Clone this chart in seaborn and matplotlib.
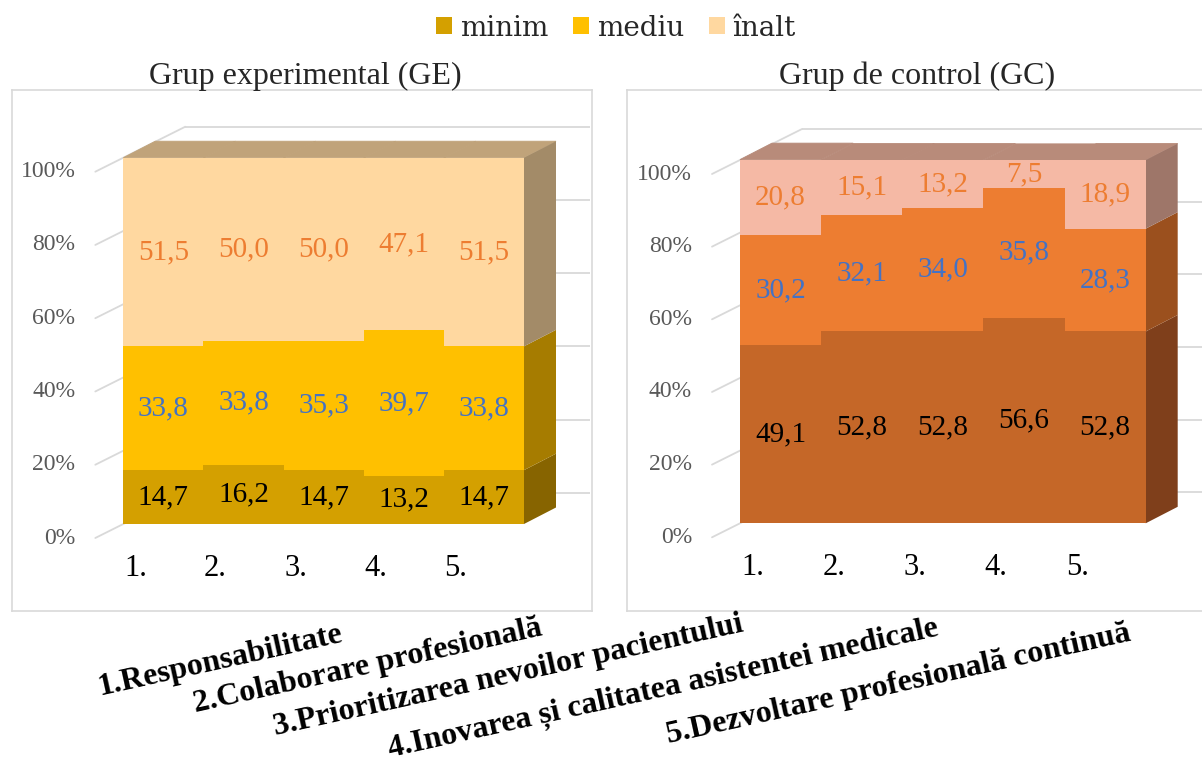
import matplotlib
matplotlib.use("Agg")
import matplotlib.pyplot as plt
from matplotlib.patches import Polygon, Patch
import pandas as pd
import seaborn as sns

# ---- data -------------------------------------------------------------
categories = ["1.", "2.", "3.", "4.", "5."]
levels = ["minim", "mediu", "înalt"]

ge_minim = [14.7, 16.2, 14.7, 13.2, 14.7]
ge_mediu = [33.8, 33.8, 35.3, 39.7, 33.8]
ge_inalt = [51.5, 50.0, 50.0, 47.1, 51.5]

gc_minim = [49.1, 52.8, 52.8, 56.6, 52.8]
gc_mediu = [30.2, 32.1, 34.0, 35.8, 28.3]
gc_inalt = [20.8, 15.1, 13.2, 7.5, 18.9]

dimensions = [
    "1.Responsabilitate",
    "2.Colaborare profesională",
    "3.Prioritizarea nevoilor pacientului",
    "4.Inovarea și calitatea asistentei medicale",
    "5.Dezvoltare profesională continuă",
]
titles = ["Grup experimental (GE)", "Grup de control (GC)"]
y_ticks = [0, 20, 40, 60, 80, 100]

# ---- styling ----------------------------------------------------------
sns.set_theme(style="white")
plt.rcParams["font.family"] = ["Liberation Serif", "DejaVu Serif"]

GE_FRONT = ["#D4A000", "#FFC000", "#FFD8A0"]
GE_SIDE = ["#876400", "#A67C00", "#A38B68"]
GE_TOP = "#C0A37A"
GC_FRONT = ["#C56728", "#ED7D31", "#F5B9A5"]
GC_SIDE = ["#7F3F1B", "#9B501E", "#9E7669"]
GC_TOP = "#B88B7A"
LABEL_COLORS = ["#000000", "#4472C4", "#ED7D31"]
GRID = "#D9D9D9"

W, H = 1202, 763
fig = plt.figure(figsize=(W / 100, H / 100), dpi=100)


def draw_panel(box, front, minim, mediu, inalt, front_cols, side_cols, top_col, title):
    bx0, by0, bx1, by1 = box
    fx0, fy0, fx1, fy1 = front
    ax = fig.add_axes([bx0 / W, 1 - by1 / H, (bx1 - bx0) / W, (by1 - by0) / H])
    n = len(categories)
    ppx = (fx1 - fx0) / n
    ppy = (fy1 - fy0) / 100
    xlim = (-0.5 - (fx0 - bx0) / ppx, n - 0.5 + (bx1 - fx1) / ppx)
    ylim = (-(by1 - fy1) / ppy, 100 + (fy0 - by0) / ppy)

    # depth offsets (bar box and back wall), in data units
    bdx, bdy = 32 / ppx, 16.5 / ppy
    wdx, wdy = 62 / ppx, 31 / ppy
    ext = 28 / ppx

    # back wall gridlines and the floor/side diagonals
    for v in y_ticks:
        yb = v + wdy
        ax.plot([-0.5 + wdx, n - 0.5 + wdx + 0.05], [yb, yb], color=GRID, lw=1.3, zorder=1,
                solid_capstyle="butt")
        y_start = yb - (wdy / wdx) * (wdx + ext)
        ax.plot([-0.5 - ext, -0.5 + wdx], [y_start, yb], color=GRID, lw=1.3, zorder=1)
        ax.text(-0.5 - 48 / ppx, y_start, f"{v}%", ha="right", va="center",
                fontsize=17, color="#595959")

    df = pd.DataFrame({"cat": categories, "minim": minim, "mediu": mediu, "inalt": inalt})
    df["c1"] = df["minim"]
    df["c2"] = df["c1"] + df["mediu"]
    df["c3"] = df["c2"] + df["inalt"]

    # top faces of each bar
    for i, t in enumerate(df["c3"]):
        ax.add_patch(Polygon([(i - 0.5, t), (i + 0.5, t), (i + 0.5 + bdx, t + bdy),
                              (i - 0.5 + bdx, t + bdy)], closed=True,
                             facecolor=top_col, edgecolor=top_col, lw=0.6, zorder=2))
    # right side of the last bar, one face per level
    last = n - 1
    bounds = [0, df["c1"][last], df["c2"][last], df["c3"][last]]
    for k in range(3):
        lo, hi = bounds[k], bounds[k + 1]
        ax.add_patch(Polygon([(last + 0.5, lo), (last + 0.5 + bdx, lo + bdy),
                              (last + 0.5 + bdx, hi + bdy), (last + 0.5, hi)], closed=True,
                             facecolor=side_cols[k], edgecolor="none", zorder=2))

    # stacked front faces, drawn from the full stack down to the first level
    for col, colr in zip(["c3", "c2", "c1"], front_cols[::-1]):
        sns.barplot(data=df, x="cat", y=col, order=categories, color=colr, saturation=1,
                    width=1.0, linewidth=0, errorbar=None, ax=ax, zorder=3)

    # value labels
    lows = [[0] * n, list(df["c1"]), list(df["c2"])]
    for vals, lo, colr in zip([minim, mediu, inalt], lows, LABEL_COLORS):
        for i, v in enumerate(vals):
            ax.text(i, lo[i] + v / 2, f"{v:.1f}".replace(".", ","), ha="center",
                    va="center", fontsize=21, color=colr, zorder=5)

    # category labels on the floor
    for i, c in enumerate(categories):
        ax.text(i - 28 / ppx, -44 / ppy, c, ha="center", va="center", fontsize=22,
                color="black")

    ax.set_xlim(*xlim)
    ax.set_ylim(*ylim)
    ax.set_xticks([])
    ax.set_yticks([])
    ax.set_xlabel("")
    ax.set_ylabel("")
    for s in ax.spines.values():
        s.set_color(GRID)
        s.set_linewidth(1.2)
    fig.text(((bx0 + min(bx1, W)) / 2 + 3) / W, 1 - 76 / H, title, ha="center",
             va="center", fontsize=23)
    return ax


draw_panel((12, 90, 592, 611), (123.3, 157.7, 524, 524), ge_minim, ge_mediu, ge_inalt,
           GE_FRONT, GE_SIDE, GE_TOP, titles[0])
draw_panel((627, 90, 1215, 611), (740, 160, 1145.7, 523.3), gc_minim, gc_mediu, gc_inalt,
           GC_FRONT, GC_SIDE, GC_TOP, titles[1])

# legend
handles = [Patch(facecolor=c, edgecolor="none") for c in GE_FRONT]
fig.legend(handles, levels, loc="center", bbox_to_anchor=(616 / W, 1 - 28 / H), ncol=3,
           frameon=False, prop={"family": "DejaVu Serif", "size": 20},
           handlelength=0.58, handleheight=0.58, handletextpad=0.28, columnspacing=0.9)

# dimension names along a slanted baseline
starts = [(100, 695), (195, 712), (275, 735), (390, 757), (668, 743)]
for name, (x, y) in zip(dimensions, starts):
    fig.text(x / W, 1 - y / H, name, rotation=12.5, rotation_mode="anchor", ha="left",
             va="baseline", fontsize=23, fontweight="bold", color="black")

fig.savefig("out.png", dpi=100)
